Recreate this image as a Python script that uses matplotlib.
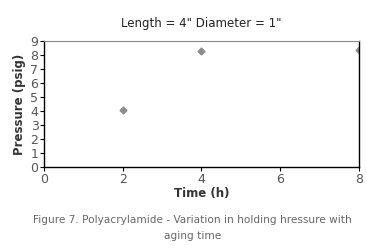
import matplotlib.pyplot as plt

time_h = [2, 4, 8]
pressure_psig = [4.1, 8.3, 8.35]
x_ticks = [0, 2, 4, 6, 8]
y_ticks = list(range(0, 10))

fig = plt.figure(figsize=(3.67, 2.49), dpi=100)
ax = fig.add_axes([0.12, 0.329, 0.858, 0.506])

ax.plot(time_h, pressure_psig, linestyle='none', marker='D', markersize=3.5,
        color='#8c8c8c')

ax.set_xlim(0, 8)
ax.set_ylim(0, 9)
ax.set_xticks(x_ticks)
ax.set_yticks(y_ticks)
ax.tick_params(direction='out', length=3, width=0.8, labelsize=9, colors='black',
               labelcolor='#555555', pad=1)
for s in ['left', 'bottom', 'right']:
    ax.spines[s].set_linewidth(1.0)
ax.spines['top'].set_color('#888888')
ax.spines['top'].set_linewidth(0.8)

ax.set_xlabel('Time (h)', fontsize=8.5, fontweight='bold', color='#333333', labelpad=1)
ax.set_ylabel('Pressure (psig)', fontsize=8.5, fontweight='bold', color='#333333', labelpad=3)
ax.set_title('Length = 4" Diameter = 1"', fontsize=8.5, color='#222222', pad=10)

fig.text(0.525, 0.116, 'Figure 7. Polyacrylamide - Variation in holding hressure with',
         ha='center', va='center', fontsize=7.6, color='#666666')
fig.text(0.525, 0.052, 'aging time', ha='center', va='center', fontsize=7.6, color='#666666')

fig.savefig('out.png', dpi=100)
